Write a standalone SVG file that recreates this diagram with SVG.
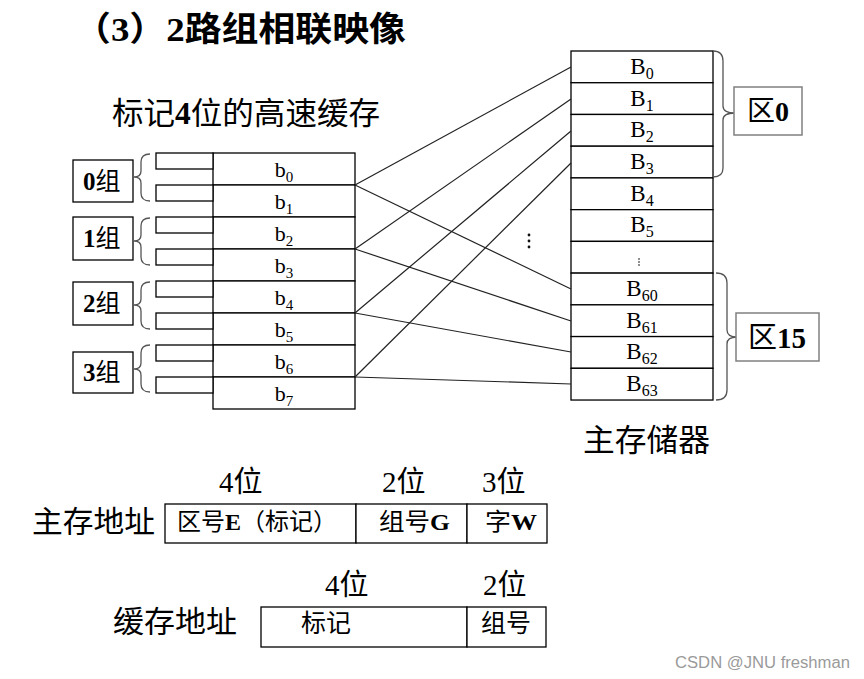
<svg xmlns="http://www.w3.org/2000/svg" width="864" height="679" viewBox="0 0 864 679">
<style>
  .t { font-family: "Liberation Serif", "Noto Sans CJK SC", serif; fill: #000; }
  .b { font-weight: bold; }
  .cell { fill: #fff; stroke: #000; stroke-width: 1.3; }
  .gbox { fill: #fff; stroke: #000; stroke-width: 1.3; }
  .zbox { fill: #fff; stroke: #808080; stroke-width: 1.5; }
  .brace { fill: none; stroke: #555; stroke-width: 1.3; }
  .conn line { stroke: #222; stroke-width: 1.2; }
  .bl { font-size: 22px; text-anchor: middle; }
  .Bl { font-size: 23px; text-anchor: middle; }
</style>
<rect width="864" height="679" fill="#fff"/>

<g id="title">
  <text class="t b" x="74" y="41" font-size="34" textLength="332" lengthAdjust="spacingAndGlyphs">（3）2路组相联映像</text>
</g>
<g id="cache-title">
  <text class="t" x="112" y="124" font-size="31" textLength="268" lengthAdjust="spacingAndGlyphs">标记<tspan class="b">4</tspan>位的高速缓存</text>
</g>

<!-- cache table -->
<g id="cache">
  <rect class="cell" x="213" y="153" width="142" height="32"/>
  <rect class="cell" x="213" y="185" width="142" height="32"/>
  <rect class="cell" x="213" y="217" width="142" height="32"/>
  <rect class="cell" x="213" y="249" width="142" height="32"/>
  <rect class="cell" x="213" y="281" width="142" height="32"/>
  <rect class="cell" x="213" y="313" width="142" height="32"/>
  <rect class="cell" x="213" y="345" width="142" height="32"/>
  <rect class="cell" x="213" y="377" width="142" height="32"/>
  <rect class="cell" x="156" y="153" width="57" height="16"/>
  <rect class="cell" x="156" y="185" width="57" height="16"/>
  <rect class="cell" x="156" y="217" width="57" height="16"/>
  <rect class="cell" x="156" y="249" width="57" height="16"/>
  <rect class="cell" x="156" y="281" width="57" height="16"/>
  <rect class="cell" x="156" y="313" width="57" height="16"/>
  <rect class="cell" x="156" y="345" width="57" height="16"/>
  <rect class="cell" x="156" y="377" width="57" height="16"/>
  <text class="t bl" x="284" y="177">b<tspan font-size="15" dy="5">0</tspan></text>
  <text class="t bl" x="284" y="209">b<tspan font-size="15" dy="5">1</tspan></text>
  <text class="t bl" x="284" y="241">b<tspan font-size="15" dy="5">2</tspan></text>
  <text class="t bl" x="284" y="273">b<tspan font-size="15" dy="5">3</tspan></text>
  <text class="t bl" x="284" y="305">b<tspan font-size="15" dy="5">4</tspan></text>
  <text class="t bl" x="284" y="337">b<tspan font-size="15" dy="5">5</tspan></text>
  <text class="t bl" x="284" y="369">b<tspan font-size="15" dy="5">6</tspan></text>
  <text class="t bl" x="284" y="401">b<tspan font-size="15" dy="5">7</tspan></text>
</g>

<g id="group0">
  <rect class="gbox" x="73" y="160" width="60" height="42"/>
  <text class="t" x="83" y="190" font-size="25"><tspan class="b">0</tspan>组</text>
  <path class="brace" d="M150,154 Q141,154 141,162 L141,171 Q141,177 134,177 Q141,177 141,183 L141,193 Q141,201 150,201"/>
</g>
<g id="group1">
  <rect class="gbox" x="73" y="217" width="60" height="43"/>
  <text class="t" x="83" y="247" font-size="25"><tspan class="b">1</tspan>组</text>
  <path class="brace" d="M150,218 Q141,218 141,226 L141,235 Q141,241 134,241 Q141,241 141,247 L141,257 Q141,265 150,265"/>
</g>
<g id="group2">
  <rect class="gbox" x="73" y="282" width="60" height="43"/>
  <text class="t" x="83" y="312" font-size="25"><tspan class="b">2</tspan>组</text>
  <path class="brace" d="M150,282 Q141,282 141,290 L141,299 Q141,305 134,305 Q141,305 141,311 L141,321 Q141,329 150,329"/>
</g>
<g id="group3">
  <rect class="gbox" x="73" y="352" width="60" height="41"/>
  <text class="t" x="83" y="381" font-size="25"><tspan class="b">3</tspan>组</text>
  <path class="brace" d="M150,345 Q141,345 141,353 L141,363 Q141,369 134,369 Q141,369 141,375 L141,384 Q141,392 150,392"/>
</g>

<!-- main memory -->
<g id="memory">
  <rect class="cell" x="571" y="51" width="142" height="31.73"/>
  <rect class="cell" x="571" y="82.73" width="142" height="31.73"/>
  <rect class="cell" x="571" y="114.46" width="142" height="31.73"/>
  <rect class="cell" x="571" y="146.19" width="142" height="31.73"/>
  <rect class="cell" x="571" y="177.92" width="142" height="31.73"/>
  <rect class="cell" x="571" y="209.65" width="142" height="31.73"/>
  <rect class="cell" x="571" y="241.38" width="142" height="31.73"/>
  <rect class="cell" x="571" y="273.11" width="142" height="31.73"/>
  <rect class="cell" x="571" y="304.84" width="142" height="31.73"/>
  <rect class="cell" x="571" y="336.57" width="142" height="31.73"/>
  <rect class="cell" x="571" y="368.3" width="142" height="31.73"/>
  <text class="t Bl" x="642" y="74">B<tspan font-size="16" dy="5">0</tspan></text>
  <text class="t Bl" x="642" y="106">B<tspan font-size="16" dy="5">1</tspan></text>
  <text class="t Bl" x="642" y="137">B<tspan font-size="16" dy="5">2</tspan></text>
  <text class="t Bl" x="642" y="169">B<tspan font-size="16" dy="5">3</tspan></text>
  <text class="t Bl" x="642" y="201">B<tspan font-size="16" dy="5">4</tspan></text>
  <text class="t Bl" x="642" y="232">B<tspan font-size="16" dy="5">5</tspan></text>
  <circle cx="639" cy="259" r="0.8" fill="#000"/>
  <circle cx="639" cy="262" r="0.8" fill="#000"/>
  <circle cx="639" cy="265" r="0.8" fill="#000"/>
  <text class="t Bl" x="642" y="296">B<tspan font-size="16" dy="5">60</tspan></text>
  <text class="t Bl" x="642" y="328">B<tspan font-size="16" dy="5">61</tspan></text>
  <text class="t Bl" x="642" y="359">B<tspan font-size="16" dy="5">62</tspan></text>
  <text class="t Bl" x="642" y="391">B<tspan font-size="16" dy="5">63</tspan></text>
  <text class="t" x="583" y="451" font-size="31" textLength="127" lengthAdjust="spacingAndGlyphs">主存储器</text>
</g>

<g id="zone0">
  <path class="brace" d="M713,51 Q723,51 723,61 L723,106 Q723,113 735,113 Q723,113 723,120 L723,168 Q723,177 713,177"/>
  <rect class="zbox" x="734" y="87" width="68" height="48"/>
  <text class="t" x="747" y="121" font-size="28">区<tspan class="b">0</tspan></text>
</g>
<g id="zone15">
  <path class="brace" d="M716,273 Q727,273 727,283 L727,330 Q727,337 737,337 Q727,337 727,344 L727,390 Q727,400 716,400"/>
  <rect class="zbox" x="736" y="313" width="83" height="48"/>
  <text class="t" x="748" y="348" font-size="29">区<tspan class="b">15</tspan></text>
</g>

<g id="connectors" class="conn">
  <line x1="355" y1="185" x2="571" y2="67"/>
  <line x1="355" y1="185" x2="571" y2="289"/>
  <line x1="355" y1="249" x2="571" y2="99"/>
  <line x1="355" y1="249" x2="571" y2="321"/>
  <line x1="355" y1="313" x2="571" y2="131"/>
  <line x1="355" y1="313" x2="571" y2="352"/>
  <line x1="355" y1="377" x2="571" y2="163"/>
  <line x1="355" y1="377" x2="571" y2="384"/>
</g>
<g id="mid-dots">
  <circle cx="529" cy="235" r="1.4" fill="#111"/>
  <circle cx="529" cy="241" r="1.4" fill="#111"/>
  <circle cx="529" cy="247" r="1.4" fill="#111"/>
</g>

<!-- main address -->
<g id="main-address">
  <text class="t" x="32" y="532" font-size="30" textLength="123" lengthAdjust="spacingAndGlyphs">主存地址</text>
  <text class="t" x="219" y="492" font-size="29">4位</text>
  <text class="t" x="382" y="492" font-size="29">2位</text>
  <text class="t" x="482" y="492" font-size="29">3位</text>
  <rect class="cell" x="165" y="504" width="191" height="39"/>
  <rect class="cell" x="356" y="504" width="111" height="39"/>
  <rect class="cell" x="467" y="504" width="80" height="39"/>
  <text class="t" x="177" y="530" font-size="24" textLength="160" lengthAdjust="spacingAndGlyphs">区号<tspan class="b">E</tspan>（标记）</text>
  <text class="t" x="379" y="530" font-size="24" textLength="71" lengthAdjust="spacingAndGlyphs">组号<tspan class="b">G</tspan></text>
  <text class="t" x="485" y="530" font-size="24" textLength="52" lengthAdjust="spacingAndGlyphs">字<tspan class="b">W</tspan></text>
</g>

<!-- cache address -->
<g id="cache-address">
  <text class="t" x="113" y="632" font-size="30" textLength="124" lengthAdjust="spacingAndGlyphs">缓存地址</text>
  <text class="t" x="325" y="595" font-size="29">4位</text>
  <text class="t" x="483" y="595" font-size="29">2位</text>
  <rect class="cell" x="261" y="607" width="206" height="40"/>
  <rect class="cell" x="467" y="607" width="79" height="40"/>
  <text class="t" x="301" y="632" font-size="25">标记</text>
  <text class="t" x="481" y="632" font-size="25">组号</text>
</g>

<text x="675" y="668" font-family="Liberation Sans, Arial, sans-serif" font-size="16" fill="#9a9a9a" textLength="175" lengthAdjust="spacingAndGlyphs">CSDN @JNU freshman</text>
</svg>
